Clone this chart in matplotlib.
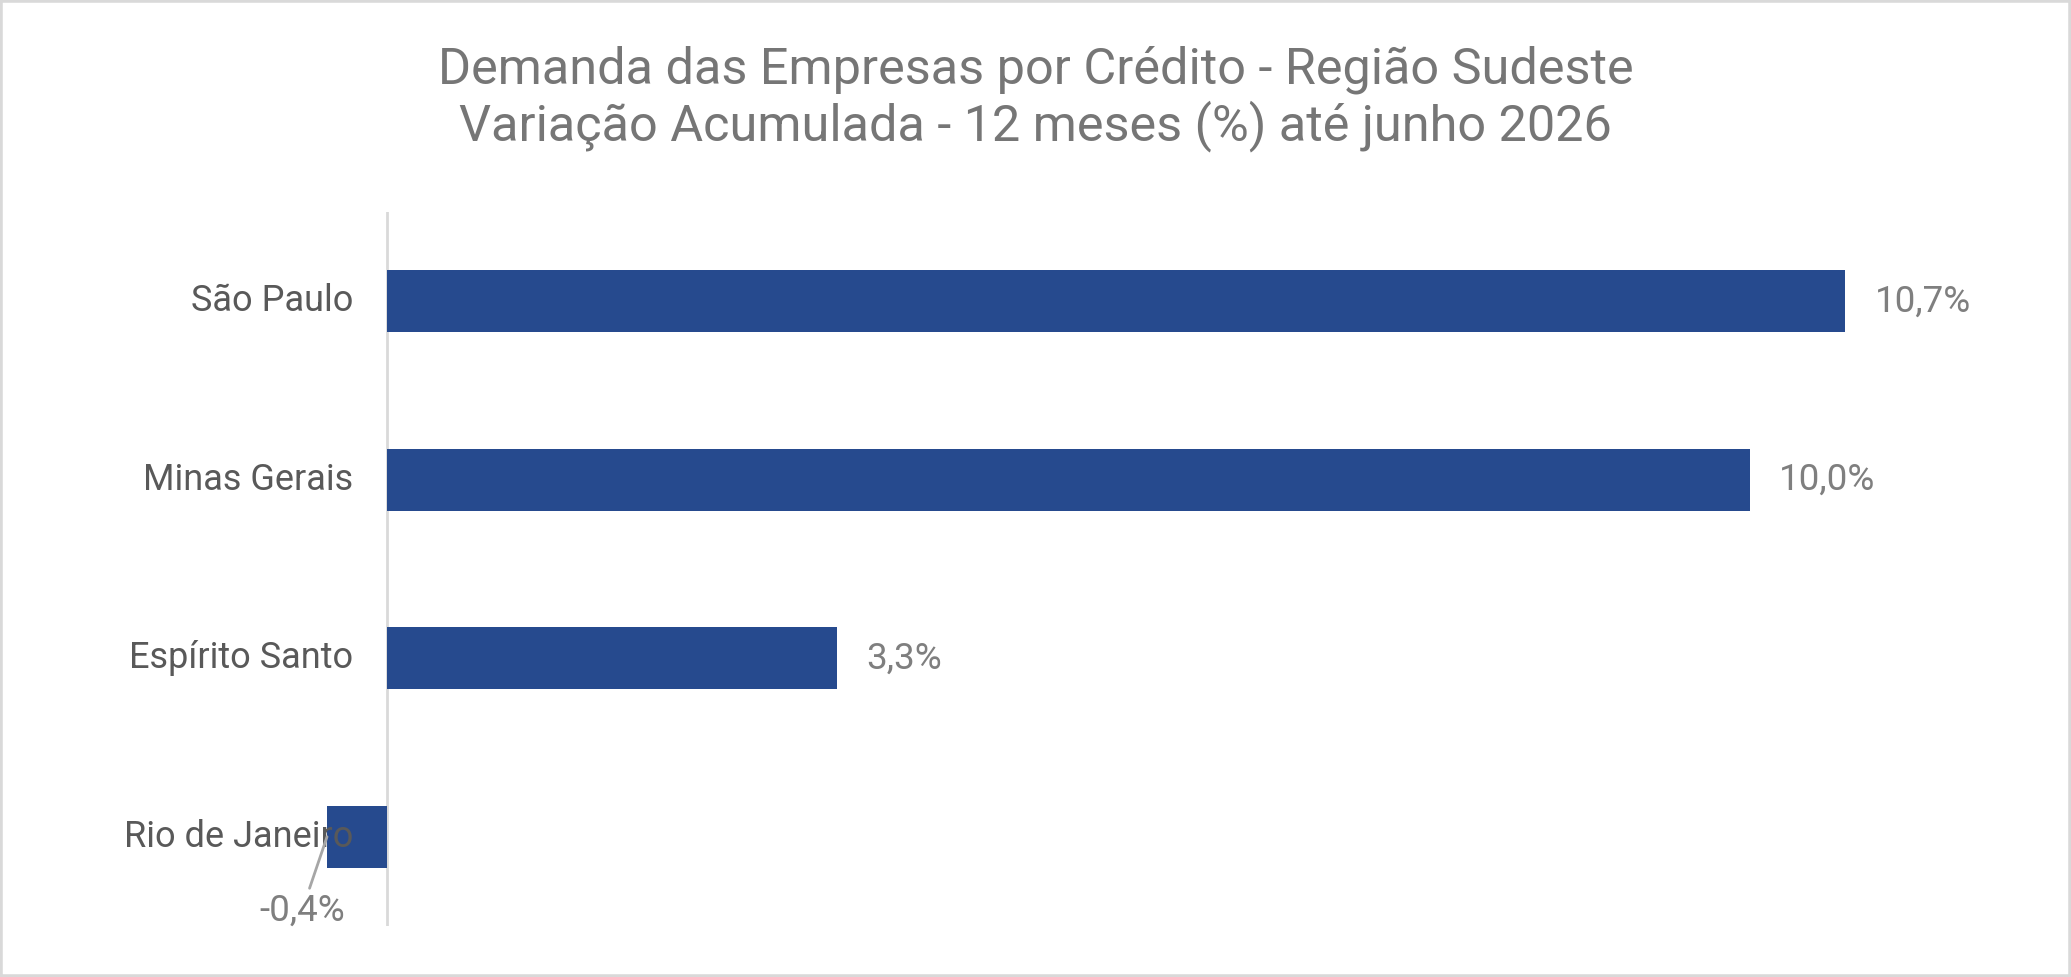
import matplotlib
matplotlib.use("Agg")
import matplotlib.pyplot as plt
from matplotlib.patches import Rectangle

plt.rcParams['font.family'] = ['Roboto', 'DejaVu Sans']

# dados
estados = ["São Paulo", "Minas Gerais", "Espírito Santo", "Rio de Janeiro"]
variacao = [10.7, 10.0, 3.3, -0.44]
rotulos = ["10,7%", "10,0%", "3,3%", "-0,4%"]

titulo1 = "Demanda das Empresas por Crédito - Região Sudeste"
titulo2 = "Variação Acumulada - 12 meses (%) até junho 2026"

cor_barra = "#264A8E"
cor_cat = "#595959"
cor_val = "#7F7F7F"
cor_tit = "#767676"
cor_linha = "#D9D9D9"

fig = plt.figure(figsize=(20.71, 9.77), dpi=100)
ax = fig.add_axes([291.6/2071, 1-926/977, (2009-291.6)/2071, (926-212)/977])

pos = list(range(len(estados)))
ax.barh(pos, variacao, height=0.35, color=cor_barra, zorder=2)
ax.set_xlim(-0.7, 11.9)
ax.set_ylim(len(estados)-0.5, -0.5)
ax.axvline(0, color=cor_linha, lw=2, zorder=1)
for s in ax.spines.values():
    s.set_visible(False)
ax.set_xticks([])
ax.set_yticks([])

# rotulos das categorias (ficam a esquerda do eixo)
for i, nome in enumerate(estados):
    ax.text(-0.25, i, nome, ha='right', va='center', fontsize=26, color=cor_cat, zorder=3)

# rotulos de dados
for i, v in enumerate(variacao):
    if v >= 0:
        ax.annotate(rotulos[i], xy=(v, i), xytext=(21, 0), textcoords='offset points',
                    ha='left', va='center', fontsize=26.5, color=cor_val)
    else:
        ax.annotate(rotulos[i], xy=(v, i), xytext=(-18, -53), textcoords='offset points',
                    ha='center', va='center', fontsize=26.5, color=cor_val,
                    arrowprops=dict(arrowstyle='-', color='#A6A6A6', lw=2, shrinkA=1, shrinkB=0))

fig.text(0.5, 1-83/977, titulo1, ha='center', va='baseline', fontsize=36.3, color=cor_tit)
fig.text(0.5, 1-140/977, titulo2, ha='center', va='baseline', fontsize=36.3, color=cor_tit)

fig.patches.append(Rectangle((0, 0), 1, 1, transform=fig.transFigure, fill=False,
                             edgecolor=cor_linha, lw=4, zorder=10))

fig.savefig("out.png", dpi=100)
